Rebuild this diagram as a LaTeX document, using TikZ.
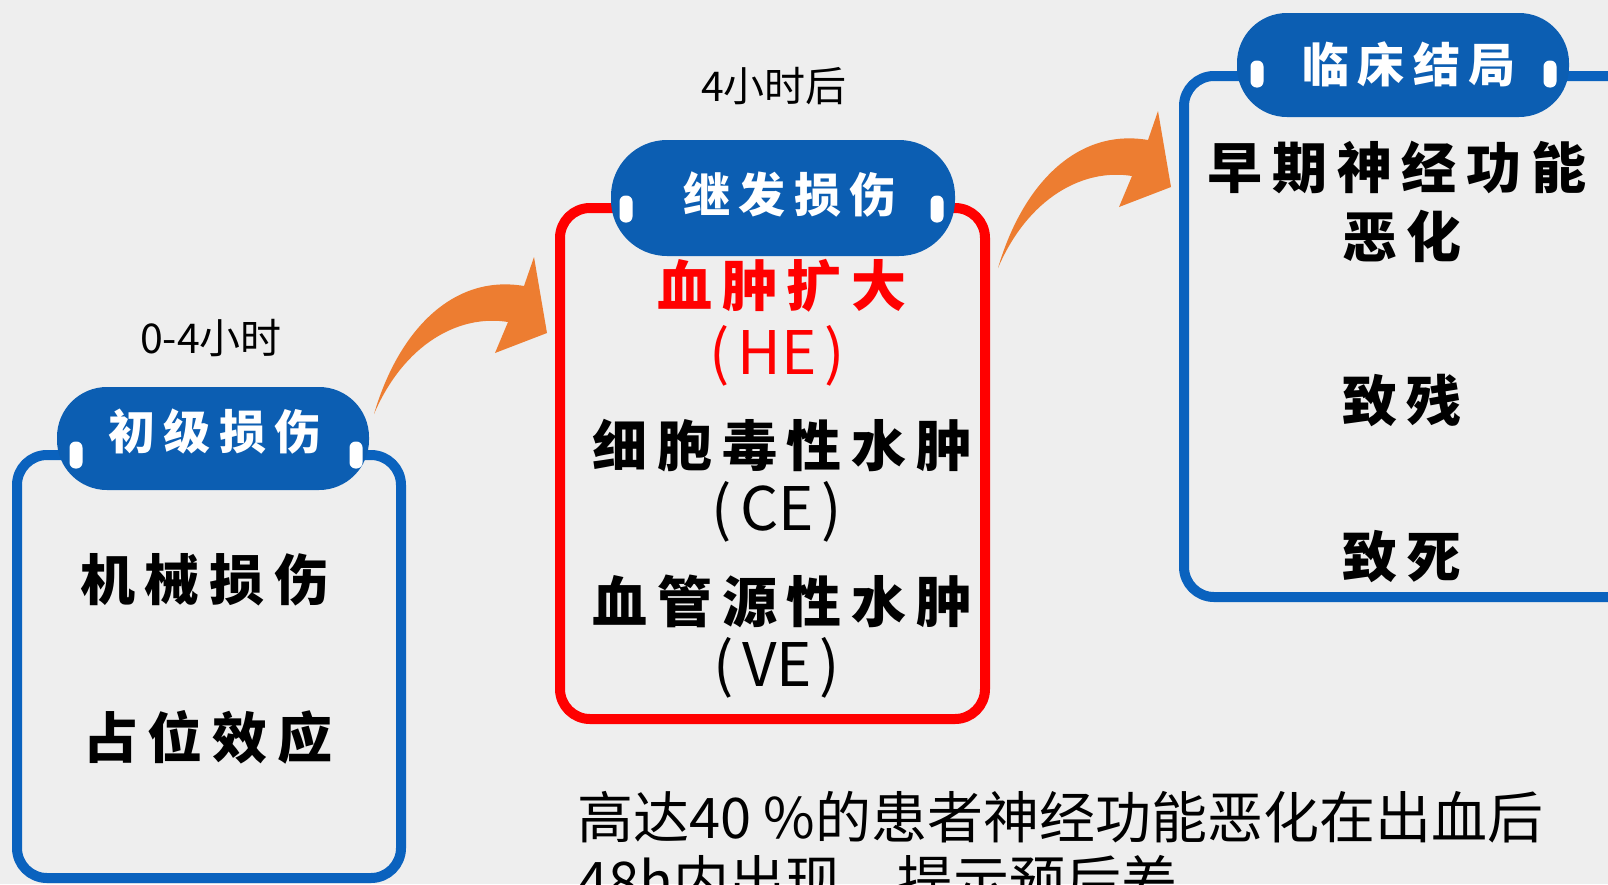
\documentclass[tikz,border=0pt]{standalone}
\usepackage{fontspec}
\setmainfont{Noto Sans CJK SC}
\newfontfamily\cjk{Noto Sans CJK SC}
\newfontfamily\cjksp[LetterSpace=18]{Noto Sans CJK SC}
\definecolor{bg}{RGB}{238,238,238}
\definecolor{boxblue}{RGB}{10,98,190}
\definecolor{pillblue}{RGB}{12,94,178}
\definecolor{arrorange}{RGB}{237,125,49}
\newcommand{\pgap}{\hspace{8pt}}
\begin{document}
\begin{tikzpicture}[x=1pt,y=-1pt,
  frame/.style={line width=10pt, rounded corners=30pt, inner sep=0pt},
  pill/.style={fill=pillblue, inner sep=0pt, rounded corners=#1},
  tabmark/.style={fill=white, minimum width=13pt, minimum height=27pt, rounded corners=6pt, inner sep=0pt},
  title/.style={text=white, inner sep=0pt, font=\cjksp\bfseries\fontsize{47}{52}\selectfont},
  content/.style={inner sep=0pt, font=\cjksp\bfseries\fontsize{55}{70}\selectfont},
  abbr/.style={inner sep=0pt, font=\cjk\fontsize{60}{66}\selectfont},
  timelabel/.style={inner sep=0pt, font=\cjk\fontsize{41}{46}\selectfont},
  note/.style={inner sep=0pt, anchor=base west, font=\cjk\fontsize{56}{64}\selectfont},
  curvearrow/.style={fill=arrorange}
]
\useasboundingbox[fill=bg] (0,0) rectangle (1608,884);

% frames
\node[frame, draw=boxblue, minimum width=384pt, minimum height=423pt] (box1) at (209,666.5) {};
\node[frame, draw=red, minimum width=425pt, minimum height=511pt] (box2) at (772.5,463.5) {};
\node[frame, draw=boxblue, minimum width=456pt, minimum height=521pt] (box3) at (1412,336.5) {};

% curved arrows
\coordinate (arrA) at (374,414);
\coordinate (arrB) at (998,268);
\foreach \c in {arrA,arrB}{
  \fill[curvearrow, shift={(\c)}] (0,0) .. controls (25,-85) and (80,-140) .. (150,-128)
    -- (160,-157) -- (173,-81) -- (121,-61) -- (134,-92)
    .. controls (85,-100) and (30,-70) .. (0,0) -- cycle;
}

% header pills
\node[pill=50pt, minimum width=312pt, minimum height=103pt] (p1) at (213,438.5) {};
\node[pill=56pt, minimum width=344pt, minimum height=116pt] (p2) at (783,198) {};
\node[pill=50pt, minimum width=332pt, minimum height=104pt] (p3) at (1403,65) {};

\node[tabmark] (p1l) at (76,455) {};
\node[tabmark] (p1r) at (356,455) {};
\node[tabmark] (p2l) at (626,209) {};
\node[tabmark] (p2r) at (937,209) {};
\node[tabmark] (p3l) at (1257,74) {};
\node[tabmark] (p3r) at (1550,74) {};

\node[title] (t1) at (215,432) {初级损伤};
\node[title] (t2) at (790,195) {继发损伤};
\node[title] (t3) at (1409,64) {临床结局};

% time labels
\node[timelabel] (l1) at (211,338) {0-4小时};
\node[timelabel] (l2) at (774,86) {4小时后};

% box 1 contents
\node[content] (c11) at (205,580) {机械损伤};
\node[content] (c12) at (208,737) {占位效应};

% box 2 contents
\node[content, text=red] (c21) at (782,286) {血肿扩大};
\node[abbr, text=red] (c22) at (777,356) {(\pgap HE\pgap)};
\node[content] (c23) at (782,446) {细胞毒性水肿};
\node[abbr] (c24) at (777,512) {(\pgap CE\pgap)};
\node[content] (c25) at (782,601) {血管源性水肿};
\node[abbr] (c26) at (777,668) {(\pgap VE\pgap)};

% box 3 contents
\node[content] (c31) at (1397,167) {早期神经功能};
\node[content] (c32) at (1402,236) {恶化};
\node[content] (c33) at (1402,401) {致残};
\node[content] (c34) at (1402,557) {致死};

% note
\node[note] (n1) at (577,838) {高达40 \%的患者神经功能恶化在出血后};
\node[note] (n2) at (577,902) {48h内出现，提示预后差};
\end{tikzpicture}
\end{document}
